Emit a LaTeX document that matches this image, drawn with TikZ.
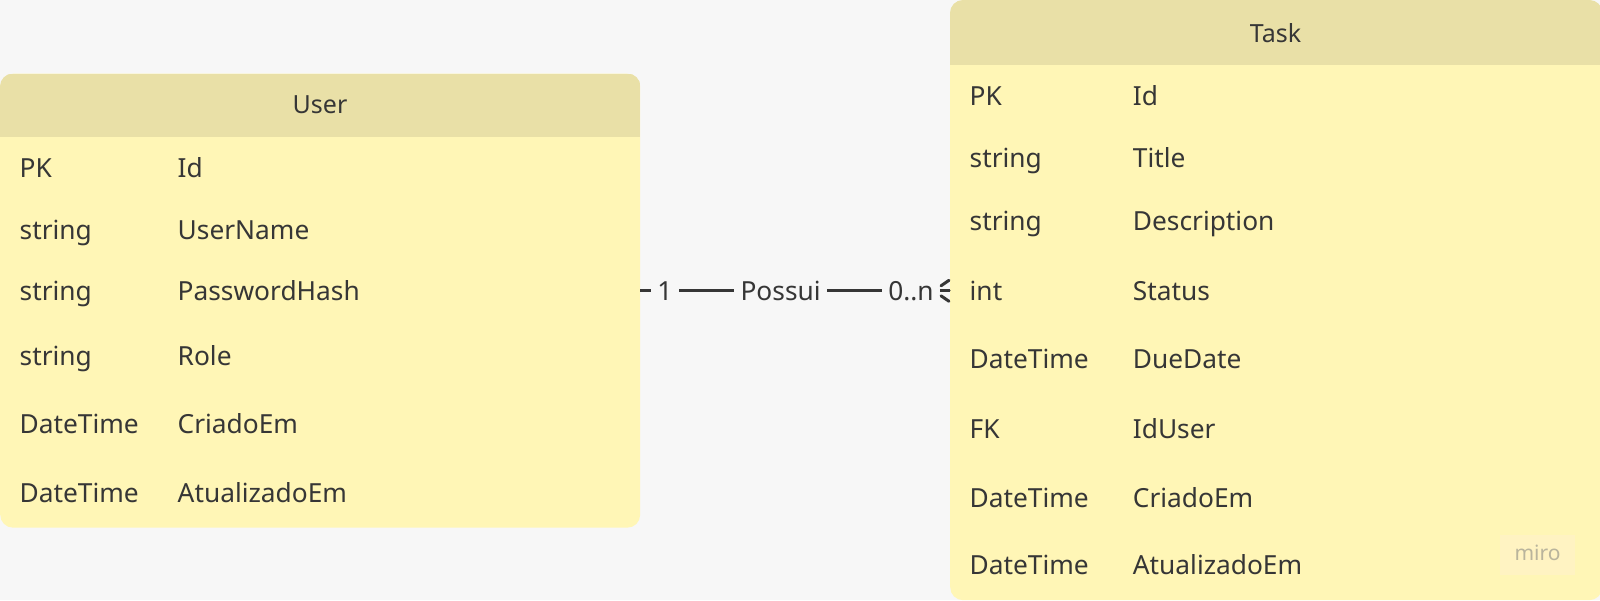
\documentclass[tikz,border=0pt]{standalone}
\usepackage{fontspec}
\setmainfont{Noto Sans}
\definecolor{bg}{HTML}{F7F7F7}
\definecolor{body}{HTML}{FFF6B6}
\definecolor{head}{HTML}{E9E0A7}
\definecolor{ink}{HTML}{363636}
\definecolor{wmtext}{HTML}{B9B49C}
\definecolor{wmbox}{HTML}{FFF3C2}
\tikzset{
  entity/.style={fill=body, rounded corners=13pt, inner sep=0pt, anchor=north west},
  cell/.style={anchor=base west, text=ink, inner sep=0pt, font=\fontsize{26.3}{30}\selectfont},
  ttl/.style={text=ink, inner sep=0pt, font=\fontsize{25}{30}\selectfont},
  rel/.style={line width=3pt, draw=ink},
  lab/.style={fill=bg, text=ink, inner xsep=6.5pt, inner ysep=4pt, font=\fontsize{26.3}{30}\selectfont},
  foot/.style={line width=3pt, draw=ink, line cap=round}
}
\begin{document}
\begin{tikzpicture}[x=1pt,y=-1pt]
\useasboundingbox (0,0) rectangle (1600,600);
\fill[bg] (0,0) rectangle (1600,600);

% ---------- User entity ----------
\node[entity, minimum width=640pt, minimum height=454pt] (user) at (0,73.5) {};
\begin{scope}
  \clip[rounded corners=13pt] (user.north west) rectangle (user.south east);
  \fill[head] (user.north west) rectangle ([yshift=-63.5pt]user.north east);
\end{scope}
\node[ttl] (usertitle) at (320,105) {User};
\def\ua{19.5}\def\ub{177.5}
\foreach \y/\t/\n [count=\i] in {168/PK/Id, 229.6/string/UserName, 290.8/string/PasswordHash, 356/string/Role, 423.5/DateTime/CriadoEm, 492.9/DateTime/AtualizadoEm}{
  \node[cell] (ut\i) at (\ua,\y+9.5) {\t};
  \node[cell] (un\i) at (\ub,\y+9.5) {\n};
  \coordinate (urow\i) at (0,\y);
}

% ---------- Task entity ----------
\node[entity, minimum width=652pt, minimum height=600pt] (task) at (950,0) {};
\begin{scope}
  \clip[rounded corners=13pt] (task.north west) rectangle (task.south east);
  \fill[head] (task.north west) rectangle ([yshift=-65.3pt]task.north east);
\end{scope}
\node[ttl] (tasktitle) at (1275.5,32.7) {Task};
\def\ta{969.5}\def\tb{1132.7}
\foreach \y/\t/\n [count=\i] in {95.9/PK/Id, 158.2/string/Title, 221.4/string/Description, 290.8/int/Status, 359.2/DateTime/DueDate, 428.6/FK/IdUser, 498/DateTime/CriadoEm, 565.3/DateTime/AtualizadoEm}{
  \node[cell] (tt\i) at (\ta,\y+9.5) {\t};
  \node[cell] (tn\i) at (\tb,\y+9.5) {\n};
  \coordinate (trow\i) at (0,\y);
}

% watermark
\node[fill=wmbox, minimum width=75pt, minimum height=40pt, inner sep=0pt] (wm) at (1537.5,555) {};
\node[text=wmtext, font=\fontsize{21}{24}\selectfont\bfseries, inner sep=0pt] (wmt) at (1537.5,553) {miro};

% ---------- relationship ----------
\draw[rel] (user.east |- urow3) -- (task.west |- trow4);
\node[lab] (one) at (665,290.8) {1};
\node[lab] (possui) at (780.6,290.8) {Possui};
\node[lab] (many) at (911,290.8) {0..n};
\coordinate (cf) at (task.west |- trow4);
\draw[foot] ([xshift=-1pt,yshift=10.5pt]cf) -- ([xshift=-9pt,yshift=5pt]cf);
\draw[foot] ([xshift=-1pt,yshift=-10.5pt]cf) -- ([xshift=-9pt,yshift=-5pt]cf);
\draw[foot] ([xshift=-1pt]cf) -- ([xshift=-8pt]cf);
\end{tikzpicture}
\end{document}
